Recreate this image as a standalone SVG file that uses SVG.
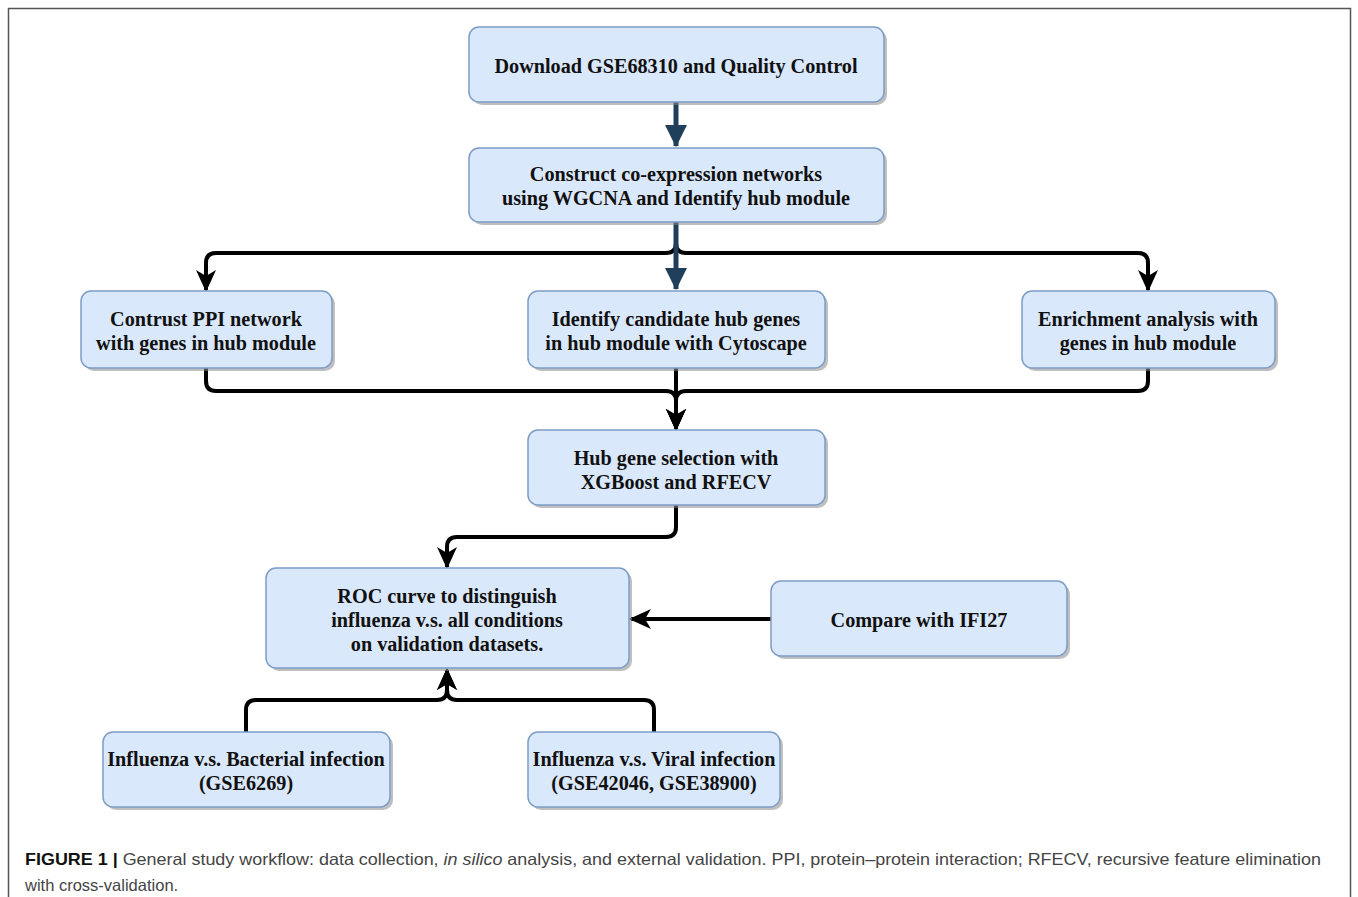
<svg xmlns="http://www.w3.org/2000/svg" width="1358" height="897" viewBox="0 0 1358 897">
<defs>
<style>
.box{fill:#dae8fc;stroke:#7d9cc6;stroke-width:1.5}
.sh{fill:#8a8a8a;opacity:0.55}
.t{font-family:"Liberation Serif","Times New Roman",serif;font-weight:bold;font-size:20.2px;fill:#111;text-anchor:middle}
.c{fill:none;stroke:#000;stroke-width:4;stroke-linejoin:round}
.cb{fill:none;stroke:#1f3f5b;stroke-width:5}
.cap{font-family:"Liberation Sans",Arial,sans-serif;font-size:16.5px;fill:#444}
</style>
<marker id="ab" viewBox="0 0 22 22" refX="20" refY="11" markerWidth="22" markerHeight="22" markerUnits="userSpaceOnUse" orient="auto">
<path d="M0,1 L22,11 L0,21 L6,11 Z" fill="#000"/>
</marker>
<marker id="ad" viewBox="0 0 20 20" refX="19" refY="10" markerWidth="22" markerHeight="22" markerUnits="userSpaceOnUse" orient="auto">
<path d="M0,0 L20,10 L0,20 Z" fill="#1f3f5b"/>
</marker>
</defs>
<rect x="0" y="0" width="1358" height="897" fill="#fff"/>
<path d="M8.5,900 V8.5 H1350.5 V900" fill="none" stroke="#555" stroke-width="1.5"/>

<g id="connectors">
<path class="c" d="M676,222 V243 Q676,253 666,253 H216 Q206,253 206,263 V290" marker-end="url(#ab)"/>
<path class="c" d="M676,222 V243 Q676,253 686,253 H1138 Q1148,253 1148,263 V290" marker-end="url(#ab)"/>
<path class="cb" d="M676,102 V146" marker-end="url(#ad)"/>
<path class="cb" d="M676,222 V289" marker-end="url(#ad)"/>
<path class="c" d="M206,368 V381 Q206,391 216,391 H666 Q676,391 676,401 V429" marker-end="url(#ab)"/>
<path class="c" d="M1148,368 V381 Q1148,391 1138,391 H686 Q676,391 676,401 V429" marker-end="url(#ab)"/>
<path class="c" d="M676,368 V429" marker-end="url(#ab)"/>
<path class="c" d="M676,505 V527 Q676,537 666,537 H457 Q447,537 447,547 V567" marker-end="url(#ab)"/>
<path class="c" d="M771,619 H631" marker-end="url(#ab)"/>
<path class="c" d="M246,732 V710 Q246,700 256,700 H437 Q447,700 447,690 V670" marker-end="url(#ab)"/>
<path class="c" d="M654,732 V710 Q654,700 644,700 H457 Q447,700 447,690 V670" marker-end="url(#ab)"/>
</g>

<g id="n1">
<rect class="sh" x="472" y="30" width="415" height="75" rx="10"/>
<rect class="box" x="469" y="27" width="415" height="75" rx="10"/>
<text class="t" x="676" y="73">Download GSE68310 and Quality Control</text>
</g>
<g id="n2">
<rect class="sh" x="472" y="151" width="415" height="74" rx="10"/>
<rect class="box" x="469" y="148" width="415" height="74" rx="10"/>
<text class="t" x="676" y="181">Construct co-expression networks</text>
<text class="t" x="676" y="205">using WGCNA and Identify hub module</text>
</g>
<g id="n3">
<rect class="sh" x="84" y="294" width="251" height="77" rx="10"/>
<rect class="box" x="81" y="291" width="251" height="77" rx="10"/>
<text class="t" x="206" y="326">Contrust PPI network</text>
<text class="t" x="206" y="350">with genes in hub module</text>
</g>
<g id="n4">
<rect class="sh" x="531" y="294" width="297" height="77" rx="10"/>
<rect class="box" x="528" y="291" width="297" height="77" rx="10"/>
<text class="t" x="676" y="326">Identify candidate hub genes</text>
<text class="t" x="676" y="350">in hub module with Cytoscape</text>
</g>
<g id="n5">
<rect class="sh" x="1025" y="294" width="253" height="77" rx="10"/>
<rect class="box" x="1022" y="291" width="253" height="77" rx="10"/>
<text class="t" x="1148" y="326">Enrichment analysis with</text>
<text class="t" x="1148" y="350">genes in hub module</text>
</g>
<g id="n6">
<rect class="sh" x="531" y="433" width="297" height="75" rx="10"/>
<rect class="box" x="528" y="430" width="297" height="75" rx="10"/>
<text class="t" x="676" y="465">Hub gene selection with</text>
<text class="t" x="676" y="489">XGBoost and RFECV</text>
</g>
<g id="n7">
<rect class="sh" x="269" y="571" width="363" height="100" rx="10"/>
<rect class="box" x="266" y="568" width="363" height="100" rx="10"/>
<text class="t" x="447" y="603">ROC curve to distinguish</text>
<text class="t" x="447" y="627">influenza v.s. all conditions</text>
<text class="t" x="447" y="651">on validation datasets.</text>
</g>
<g id="n8">
<rect class="sh" x="774" y="584" width="296" height="75" rx="10"/>
<rect class="box" x="771" y="581" width="296" height="75" rx="10"/>
<text class="t" x="919" y="627">Compare with IFI27</text>
</g>
<g id="n9">
<rect class="sh" x="106" y="735" width="287" height="75" rx="10"/>
<rect class="box" x="103" y="732" width="287" height="75" rx="10"/>
<text class="t" x="246" y="766">Influenza v.s. Bacterial infection</text>
<text class="t" x="246" y="790">(GSE6269)</text>
</g>
<g id="n10">
<rect class="sh" x="531" y="735" width="252" height="75" rx="10"/>
<rect class="box" x="528" y="732" width="252" height="75" rx="10"/>
<text class="t" x="654" y="766">Influenza v.s. Viral infection</text>
<text class="t" x="654" y="790">(GSE42046, GSE38900)</text>
</g>

<g id="caption">
<text class="cap" x="25" y="865" textLength="1296" lengthAdjust="spacingAndGlyphs"><tspan font-weight="bold" fill="#111">FIGURE 1 |</tspan> General study workflow: data collection, <tspan font-style="italic">in silico</tspan> analysis, and external validation. PPI, protein–protein interaction; RFECV, recursive feature elimination</text>
<text class="cap" x="25" y="891">with cross-validation.</text>
</g>
</svg>
